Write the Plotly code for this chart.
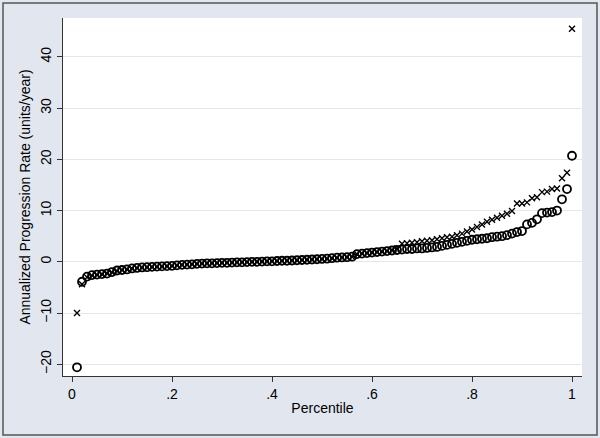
import plotly.graph_objects as go

# percentile positions (100 obs)
pct = [i / 100 for i in range(1, 101)]

# series 1 (circles), sorted rates
rate_o = [
    -20.6, -3.9, -2.9, -2.6, -2.5, -2.4, -2.3, -2.0, -1.7, -1.6,
    -1.5, -1.3, -1.2, -1.1, -1.05, -1.0, -0.95, -0.9, -0.85, -0.8,
    -0.7, -0.6, -0.55, -0.5, -0.4, -0.35, -0.3, -0.3, -0.25, -0.2,
    -0.2, -0.15, -0.1, -0.1, -0.05, 0.0, 0.0, 0.05, 0.1, 0.1,
    0.15, 0.2, 0.2, 0.25, 0.3, 0.35, 0.4, 0.45, 0.5, 0.55,
    0.6, 0.7, 0.8, 0.85, 0.9, 1.0, 1.5, 1.6, 1.7, 1.8,
    1.9, 2.0, 2.1, 2.2, 2.3, 2.4, 2.5, 2.5, 2.6, 2.6,
    2.7, 2.8, 2.9, 3.1, 3.3, 3.5, 3.7, 3.9, 4.1, 4.3,
    4.4, 4.5, 4.6, 4.8, 4.9, 5.0, 5.2, 5.5, 5.8, 6.0,
    7.3, 7.6, 8.3, 9.5, 9.6, 9.7, 10.0, 12.2, 14.2, 20.7,
]

# series 2 (crosses), sorted rates
rate_x = [
    -10.0, -4.4, -3.0, -2.7, -2.6, -2.5, -2.3, -2.1, -1.8, -1.6,
    -1.5, -1.3, -1.2, -1.1, -1.05, -1.0, -0.95, -0.9, -0.85, -0.8,
    -0.7, -0.6, -0.55, -0.5, -0.4, -0.35, -0.3, -0.3, -0.25, -0.2,
    -0.2, -0.15, -0.1, -0.1, -0.05, 0.0, 0.0, 0.05, 0.1, 0.1,
    0.15, 0.2, 0.2, 0.25, 0.3, 0.35, 0.4, 0.45, 0.5, 0.55,
    0.6, 0.7, 0.8, 0.85, 0.9, 1.0, 1.5, 1.6, 1.7, 1.8,
    1.9, 2.0, 2.1, 2.3, 2.6, 3.5, 3.6, 3.7, 3.8, 4.0,
    4.1, 4.2, 4.4, 4.6, 4.8, 4.9, 5.2, 5.5, 5.9, 6.3,
    6.8, 7.3, 7.8, 8.2, 8.6, 9.0, 9.4, 9.9, 11.4, 11.4,
    11.6, 12.4, 12.6, 13.6, 13.7, 14.2, 14.3, 16.3, 17.4, 45.5,
]

xticks = [0, 0.2, 0.4, 0.6, 0.8, 1]
xlabels = ["0", ".2", ".4", ".6", ".8", "1"]
yticks = [-20, -10, 0, 10, 20, 30, 40]

font = "Liberation Sans, Arial, sans-serif"

fig = go.Figure()
fig.add_trace(go.Scatter(
    x=pct, y=rate_o, mode="markers",
    marker=dict(symbol="circle-open", size=8, color="black",
                line=dict(width=1.8, color="black")),
    showlegend=False))
fig.add_trace(go.Scatter(
    x=pct, y=rate_x, mode="markers",
    marker=dict(symbol="x-thin", size=6, color="black",
                line=dict(width=1.4, color="black")),
    showlegend=False))

# outer frame round the whole graph
fig.add_shape(type="rect", xref="paper", yref="paper",
              x0=-0.1156, x1=1.0289, y0=-0.1648, y1=1.0419,
              line=dict(color="#555555", width=1.5), layer="below")

fig.update_layout(
    width=600, height=438,
    margin=dict(l=63, r=18, t=18, b=62),
    paper_bgcolor="#e2e7ef",
    plot_bgcolor="white",
    font=dict(family=font, size=14, color="black"),
    xaxis=dict(
        range=[-0.018, 1.02], tickvals=xticks, ticktext=xlabels,
        showgrid=False, zeroline=False, automargin=False,
        showline=True, linecolor="#333333", linewidth=1,
        ticks="outside", ticklen=5, tickcolor="#333333",
        tickfont=dict(size=14),
        title=dict(text="Percentile", font=dict(size=14), standoff=2),
    ),
    yaxis=dict(
        range=[-22.3, 47.6], tickvals=yticks, automargin=False,
        showgrid=True, gridcolor="#e6e6e6", gridwidth=1, zeroline=False,
        showline=True, linecolor="#333333", linewidth=1,
        ticks="outside", ticklen=5, tickcolor="#333333",
        tickangle=-90, tickfont=dict(size=14),
        title=dict(text="Annualized Progression Rate (units/year)",
                   font=dict(size=14), standoff=4),
    ),
)

# page body has a default 8px margin; drop it so the figure sits at 0,0
fig.write_html("out.html", config={"displayModeBar": False},
               post_script="document.body.style.margin='0';")
